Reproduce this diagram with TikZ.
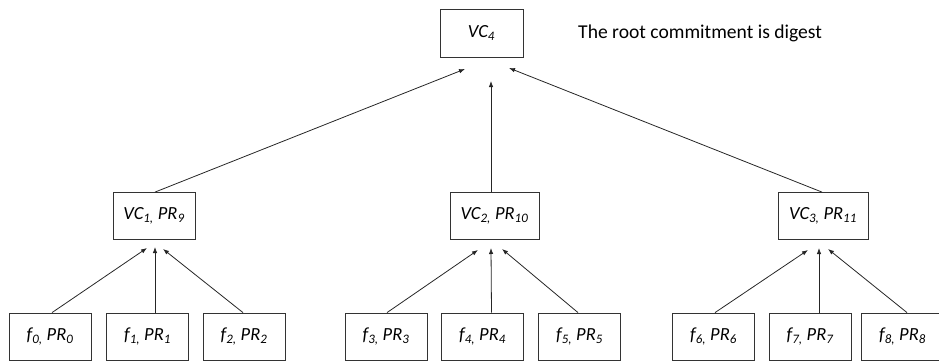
\documentclass[tikz,border=0pt]{standalone}
\usepackage{fontspec}
\setmainfont{Carlito}
\usetikzlibrary{arrows.meta,positioning}

\tikzset{
  hashbox/.style={draw=black!80, line width=0.8pt, minimum width=82pt, minimum height=47pt,
    inner sep=2pt, font=\fontsize{18.5}{20}\selectfont\itshape},
  link/.style={draw=black!85, line width=0.8pt, -{Latex[length=6pt,width=4.5pt]}}
}
\newcommand{\sub}[1]{\textsubscript{#1}}

\begin{document}
\begin{tikzpicture}[x=1pt,y=-1pt]
 \useasboundingbox (0,0) rectangle (939,361);
 % root
 \node[hashbox, minimum width=83pt, minimum height=48pt] (root) at (481.5,33) {VC\sub{4}};
 \node[anchor=west, inner sep=0pt, font=\fontsize{19.6}{21}\selectfont] (note) at (578,33) {The root commitment is digest};
 % middle level
 \node[hashbox] (vc1) at (154,216) {VC\sub{1,} PR\sub{9}};
 \node[hashbox, minimum width=89pt] (vc2) at (494.5,216) {VC\sub{2,} PR\sub{10}};
 \node[hashbox, minimum width=90pt] (vc3) at (823,216) {VC\sub{3,} PR\sub{11}};
 % leaves
 \foreach \i/\x in {0/50,1/147.5,2/244,3/386,4/482.5,5/579.5,6/713.5,7/810,8/902.5} {
  \node[hashbox] (f\i) at (\x,336.5) {f\sub{\i,} PR\sub{\i}};
 }
 % arrow ends
 \foreach \n/\x/\y in {t0/147/248,t1/155/247,t2/163/249,t3/478/250,t4/491/248,t5/502/249,
                      t6/808/250,t7/819/248,t8/828/249,r1/465/69,r2/491/81,r3/509/68} {
  \coordinate (\n) at (\x,\y);
 }
 % connectors
 \foreach \i/\dx in {0/2,1/7.5,2/-1,3/1,4/9,5/-1.5,6/1.5,7/9,8/4.5} {
  \draw[link] ([xshift=\dx pt]f\i.north) -- (t\i);
 }
 \draw[link] ([xshift=1pt]vc1.north) -- (r1);
 \draw[link] ([xshift=-3.5pt]vc2.north) -- (r2);
 \draw[link] ([xshift=-1pt]vc3.north) -- (r3);
\end{tikzpicture}
\end{document}
